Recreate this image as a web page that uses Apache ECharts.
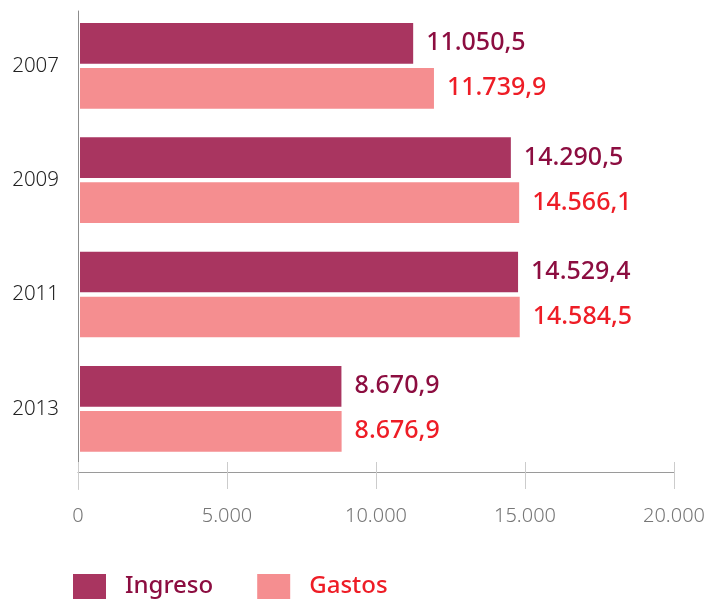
<!DOCTYPE html>
<html>
<head>
<meta charset="utf-8">
<script src="https://cdn.jsdelivr.net/npm/echarts@6/dist/echarts.min.js"></script>
<style>
html,body{margin:0;padding:0;background:#fff;}
#chart{width:720px;height:605px;}
</style>
</head>
<body>
<div id="chart"></div>
<script>
var years = ['2007', '2009', '2011', '2013'];
var ingreso = [11050.5, 14290.5, 14529.4, 8670.9];
var gastos = [11739.9, 14566.1, 14584.5, 8676.9];
var seriesNames = ['Ingreso', 'Gastos'];
var axisMin = 0, axisMax = 20000, axisStep = 5000;

function groupThousands(intStr) {
  return intStr.replace(/\B(?=(\d{3})+(?!\d))/g, '.');
}
function fmtValue(v) {
  var parts = v.toFixed(1).split('.');
  return groupThousands(parts[0]) + ',' + parts[1];
}
function fmtTick(v) {
  return groupThousands(String(Math.round(v)));
}

var narrowFam = "'Noto Sans', sans-serif";
var human = "'Noto Sans', 'Open Sans', sans-serif";
var cIng = '#A93560', cGas = '#F58E90';
var tIng = '#8C0D40', tGas = '#EE1D26';

var chart = echarts.init(document.getElementById('chart'), null, {renderer: 'canvas'});
chart.setOption({
  animation: false,
  backgroundColor: '#ffffff',
  grid: [
    {left: 78, right: 46, top: 11, bottom: 116},
    {left: 80, right: 37, top: 8.7, bottom: 139}
  ],
  xAxis: [
    {
      gridIndex: 0, type: 'value', position: 'bottom', offset: 0,
      min: axisMin, max: axisMax, interval: axisStep,
      axisLine: {show: false},
      axisTick: {show: true, inside: true, length: 27, lineStyle: {color: '#cccccc', width: 1}},
      splitLine: {show: false},
      axisLabel: {margin: 17, fontFamily: narrowFam, fontWeight: 300, fontSize: 20, color: '#777777', formatter: fmtTick}
    },
    {
      gridIndex: 0, type: 'value', position: 'bottom', offset: -17,
      min: axisMin, max: axisMax, interval: axisStep,
      axisLine: {show: true, lineStyle: {color: '#9a9a9a', width: 1}},
      axisTick: {show: false}, axisLabel: {show: false}, splitLine: {show: false}
    },
    {
      gridIndex: 1, type: 'value', min: axisMin, max: axisMax, show: false,
      splitLine: {show: false}
    }
  ],
  yAxis: [
    {
      gridIndex: 0, type: 'value', min: 0, max: 1, position: 'left',
      axisLine: {show: true, lineStyle: {color: '#8c8c8c', width: 1}},
      axisTick: {show: false}, axisLabel: {show: false}, splitLine: {show: false}
    },
    {
      gridIndex: 1, type: 'category', data: years, inverse: true,
      axisLine: {show: false}, axisTick: {show: false}, splitLine: {show: false},
      axisLabel: {margin: 21, fontFamily: narrowFam, fontWeight: 300, fontSize: 20.5, color: '#222222', padding: [0, 0, 3, 0]}
    }
  ],
  legend: {
    left: 68, top: 569, itemWidth: 33, itemHeight: 25, itemGap: 44,
    icon: 'rect',
    textStyle: {fontFamily: human, fontWeight: 500, fontSize: 24, padding: [0, 0, 0, 14]},
    data: [
      {name: seriesNames[0], textStyle: {color: tIng}},
      {name: seriesNames[1], textStyle: {color: tGas}}
    ]
  },
  series: [
    {
      name: seriesNames[0], type: 'bar', xAxisIndex: 2, yAxisIndex: 1,
      data: ingreso, barWidth: 40.7, barGap: '10.6%',
      itemStyle: {color: cIng},
      label: {show: true, position: 'right', distance: 13, fontFamily: human, fontWeight: 500, fontSize: 25,
        color: tIng, formatter: function (p) { return fmtValue(p.value); }}
    },
    {
      name: seriesNames[1], type: 'bar', xAxisIndex: 2, yAxisIndex: 1,
      data: gastos, barWidth: 40.7, barGap: '10.6%',
      itemStyle: {color: cGas},
      label: {show: true, position: 'right', distance: 13, fontFamily: human, fontWeight: 500, fontSize: 25,
        color: tGas, formatter: function (p) { return fmtValue(p.value); }}
    }
  ]
});
</script>
</body>
</html>
